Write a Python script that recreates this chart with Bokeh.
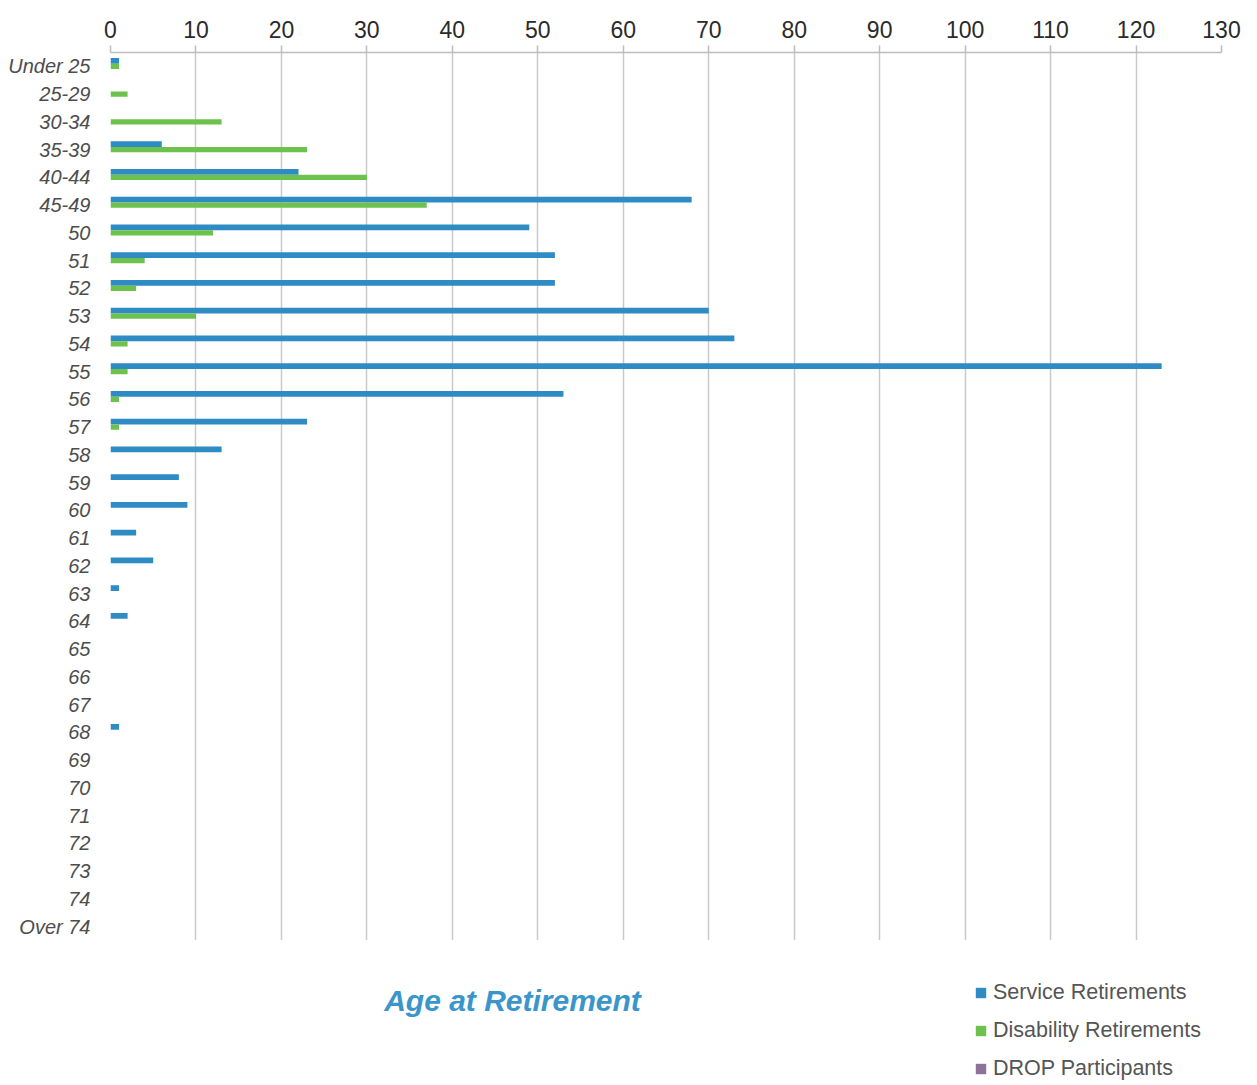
from bokeh.plotting import figure
from bokeh.models import (ColumnDataSource, FactorRange, Range1d, Label,
                          Legend, LegendItem, FixedTicker)
from bokeh.layouts import column
from bokeh.transform import dodge
from bokeh.embed import file_html
from bokeh.resources import INLINE

categories = ["Under 25", "25-29", "30-34", "35-39", "40-44", "45-49",
              "50", "51", "52", "53", "54", "55", "56", "57", "58", "59",
              "60", "61", "62", "63", "64", "65", "66", "67", "68", "69",
              "70", "71", "72", "73", "74", "Over 74"]
service = [1, 0, 0, 6, 22, 68, 49, 52, 52, 70, 73, 123, 53, 23, 13, 8,
           9, 3, 5, 1, 2, 0, 0, 0, 1, 0, 0, 0, 0, 0, 0, 0]
disability = [1, 2, 13, 23, 30, 37, 12, 4, 3, 10, 2, 2, 1, 1, 0, 0,
              0, 0, 0, 0, 0, 0, 0, 0, 0, 0, 0, 0, 0, 0, 0, 0]
drop = [0] * 32
series_names = ["Service Retirements", "Disability Retirements", "DROP Participants"]
x_ticks = list(range(0, 131, 10))
title_text = "Age at Retirement"

BLUE = "#2f8bc4"
GREEN = "#6cc24c"
PURPLE = "#8e7399"
colors = [BLUE, GREEN, PURPLE]

src = ColumnDataSource(dict(cat=categories, service=service, disability=disability, drop=drop))

p = figure(width=1257, height=940, output_backend="svg", toolbar_location=None,
           y_range=FactorRange(factors=list(reversed(categories)), range_padding=0),
           x_range=Range1d(0, 130), x_axis_location="above",
           min_border_left=110, min_border_right=36, min_border_top=52, min_border_bottom=0)
p.outline_line_color = None
p.background_fill_color = "white"
p.border_fill_color = "white"

p.hbar(y=dodge("cat", 0.2, range=p.y_range), right="service", left=0, height=0.21,
       source=src, fill_color=BLUE, line_color=None)
p.hbar(y=dodge("cat", 0.0, range=p.y_range), right="disability", left=0, height=0.19,
       source=src, fill_color=GREEN, line_color=None)
p.hbar(y=dodge("cat", -0.2, range=p.y_range), right="drop", left=0, height=0.19,
       source=src, fill_color=PURPLE, line_color=None)

xa = p.xaxis[0]
xa.ticker = FixedTicker(ticks=x_ticks)
xa.axis_line_color = "#bdbdbd"
xa.axis_line_width = 1.5
xa.major_tick_line_color = "#bdbdbd"
xa.major_tick_line_width = 1.5
xa.major_tick_out = 7
xa.major_tick_in = 0
xa.minor_tick_line_color = None
xa.major_label_standoff = 8
xa.major_label_text_font = "Liberation Sans"
xa.major_label_text_font_size = "23px"
xa.major_label_text_color = "#2a2a2a"

ya = p.yaxis[0]
ya.axis_line_color = None
ya.major_tick_line_color = None
ya.minor_tick_line_color = None
ya.major_tick_out = 0
ya.major_label_standoff = 20
ya.major_label_text_font = "Liberation Sans"
ya.major_label_text_font_style = "italic"
ya.major_label_text_font_size = "20px"
ya.major_label_text_color = "#4d4d4d"

p.xgrid.grid_line_color = "#c9c9c9"
p.xgrid.grid_line_width = 1.5
p.xgrid.ticker = FixedTicker(ticks=x_ticks)
p.ygrid.grid_line_color = None

# Bottom strip: title and legend (frame is aligned with the main chart's frame: x 110..1221)
p2 = figure(width=1257, height=145, output_backend="svg", toolbar_location=None,
            x_range=Range1d(110, 1221), y_range=Range1d(0, 145),
            x_axis_location=None, y_axis_location=None,
            min_border_left=110, min_border_right=36, min_border_top=0, min_border_bottom=0)
p2.outline_line_color = None
p2.grid.visible = False
p2.background_fill_color = "white"
p2.border_fill_color = "white"

title = Label(x=512, y=85, text=title_text,
              text_align="center", text_baseline="middle",
              text_font="Liberation Sans", text_font_style="bold italic",
              text_font_size="30px", text_color="#3a95cb")
p2.add_layout(title)

# legend-only renderers (zero-length bars, nothing visible)
key_src = ColumnDataSource(dict(y=[0], right=[0]))
items = []
for name, col in zip(series_names, colors):
    rr = p2.hbar(y="y", right="right", left=0, height=1, source=key_src,
                 fill_color=col, line_color=None)
    items.append(LegendItem(label=name, renderers=[rr]))

legend = Legend(items=items, location=(864, 2), orientation="vertical",
                glyph_width=13, glyph_height=13, label_height=30, spacing=8,
                label_standoff=6, padding=0, margin=0,
                border_line_color=None, background_fill_alpha=0,
                label_text_font="Liberation Sans", label_text_font_size="21.5px",
                label_text_color="#555555")
p2.add_layout(legend)

layout = column(p, p2, spacing=0)
open("out.html", "w").write(file_html(layout, INLINE))
